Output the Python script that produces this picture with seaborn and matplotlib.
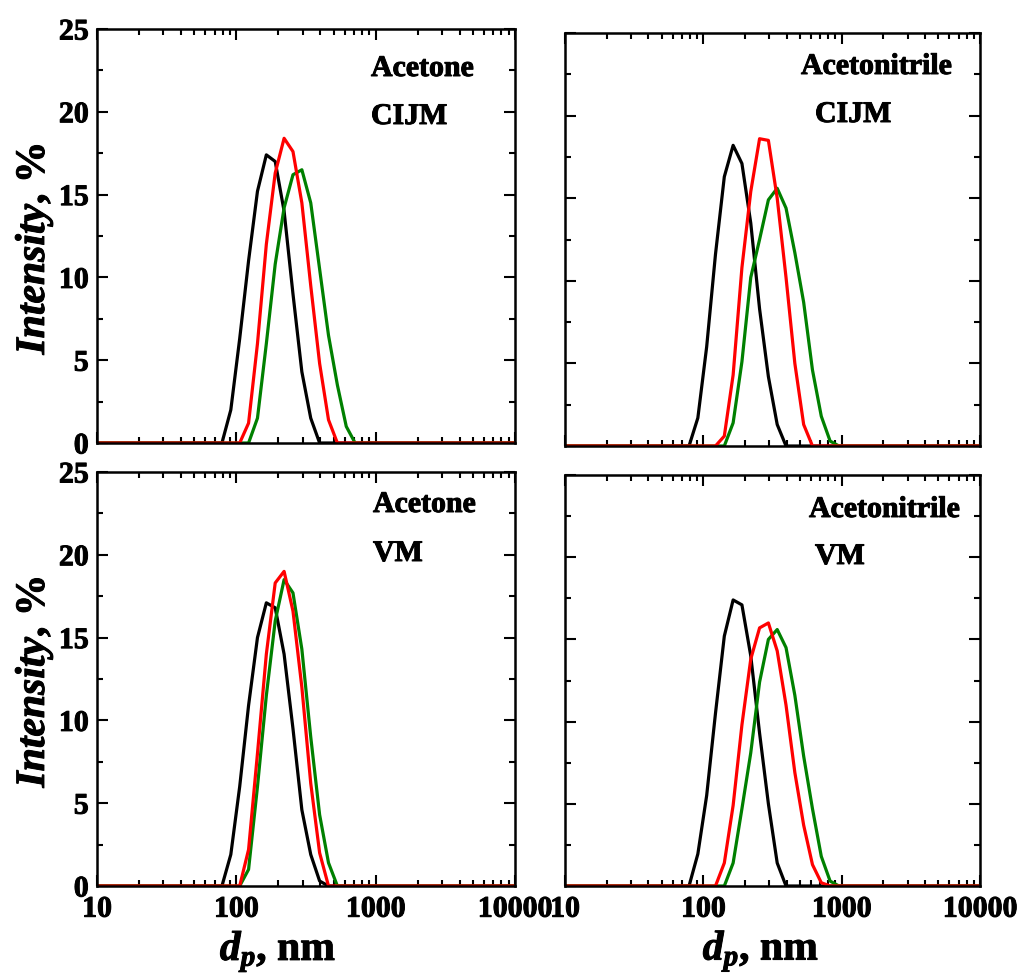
import numpy as np
import pandas as pd
import matplotlib
matplotlib.use("Agg")
import matplotlib.pyplot as plt
import matplotlib.patheffects as pe
import seaborn as sns
from matplotlib.ticker import FixedLocator, FixedFormatter, MultipleLocator, LogLocator, NullFormatter

# ---------------- data ----------------
# DLS size bins (nm)
d_nm = [68.06, 78.82, 91.28, 105.7, 122.4, 141.8, 164.2, 190.1, 220.2, 255.0,
        295.3, 342.0, 396.1, 458.7, 531.2, 615.1, 712.4, 825.0, 955.4]
x_ticks = [10, 100, 1000, 10000]
x_tick_labels = ["10", "100", "1000", "10000"]
y_ticks = [0, 5, 10, 15, 20, 25]

tl_black = [0, 0, 2.0, 6.3, 11.0, 15.2, 17.4, 17.0, 14.0, 9.0, 4.3, 1.5, 0, 0, 0, 0, 0, 0, 0]
tl_red   = [0, 0, 0, 0, 1.2, 6.0, 12.0, 16.3, 18.4, 17.6, 14.5, 9.5, 4.8, 1.4, 0, 0, 0, 0, 0]
tl_green = [0, 0, 0, 0, 0, 1.5, 6.0, 10.8, 14.2, 16.2, 16.5, 14.5, 10.5, 6.5, 3.5, 1.0, 0, 0, 0]

tr_black = [0, 0, 1.7, 6.0, 11.6, 16.3, 18.2, 17.1, 13.5, 8.3, 4.2, 1.3, 0, 0, 0, 0, 0, 0, 0]
tr_red   = [0, 0, 0, 0, 0, 0.6, 4.3, 10.8, 15.4, 18.6, 18.5, 15.0, 10.2, 5.0, 1.3, 0, 0, 0, 0]
tr_green = [0, 0, 0, 0, 0, 0, 1.4, 5.1, 10.2, 12.5, 14.9, 15.6, 14.4, 11.7, 8.7, 4.6, 1.8, 0.3, 0]

bl_black = [0, 0, 1.9, 6.0, 10.9, 15.0, 17.1, 16.8, 14.0, 9.5, 4.6, 1.9, 0.3, 0, 0, 0, 0, 0, 0]
bl_red   = [0, 0, 0, 0, 2.2, 8.0, 14.0, 18.3, 19.0, 16.6, 12.0, 6.2, 2.0, 0, 0, 0, 0, 0, 0]
bl_green = [0, 0, 0, 0, 1.0, 6.0, 11.5, 16.0, 18.5, 17.7, 14.3, 9.0, 4.3, 1.4, 0, 0, 0, 0, 0]

br_black = [0, 0, 1.95, 5.5, 10.5, 15.2, 17.4, 17.1, 14.0, 9.3, 5.0, 1.4, 0, 0, 0, 0, 0, 0, 0]
br_red   = [0, 0, 0, 0, 0, 1.4, 4.9, 9.8, 13.8, 15.7, 16.0, 14.3, 11.0, 6.9, 3.7, 1.3, 0.2, 0, 0]
br_green = [0, 0, 0, 0, 0, 0, 1.4, 4.7, 8.1, 12.4, 15.0, 15.6, 14.5, 11.6, 7.9, 4.7, 1.8, 0.3, 0]

solvents = ["Acetone", "Acetonitrile", "Acetone", "Acetonitrile"]
methods = ["CIJM", "CIJM", "VM", "VM"]

# ---------------- style ----------------
sns.set_style("ticks")
plt.rcParams["font.family"] = ["Liberation Serif", "DejaVu Serif"]
plt.rcParams["font.weight"] = "bold"
plt.rcParams["axes.labelweight"] = "bold"
plt.rcParams["text.color"] = "black"
plt.rcParams["axes.labelcolor"] = "black"
plt.rcParams["axes.edgecolor"] = "black"
plt.rcParams["xtick.color"] = "black"
plt.rcParams["ytick.color"] = "black"
plt.rcParams["mathtext.fontset"] = "custom"
plt.rcParams["mathtext.it"] = "Liberation Serif:italic:bold"
plt.rcParams["mathtext.rm"] = "Liberation Serif:bold"
plt.rcParams["mathtext.bf"] = "Liberation Serif:bold"

heavy = [pe.withStroke(linewidth=0.7, foreground="black")]

W, H = 1024, 978
fig = plt.figure(figsize=(W / 100, H / 100), dpi=100)

def box(x0, y0, x1, y1):
    return [x0 / W, 1 - y1 / H, (x1 - x0) / W, (y1 - y0) / H]

boxes = [box(97, 30, 515, 444), box(565, 34, 980, 447),
         box(97, 473, 515, 887), box(565, 476, 980, 887)]
panels = [(tl_black, tl_green, tl_red), (tr_black, tr_green, tr_red),
          (bl_black, bl_green, bl_red), (br_black, br_green, br_red)]
palette = {"a": "black", "b": "#008000", "c": "#ff0000"}

# text positions (pixels: left x, baseline y)
txt_pos = [((371, 77), (371, 125)), ((801, 75), (815, 123)),
           ((373, 513), (373, 562)), ((809, 518), (815, 565))]
xlabel_x = [None, None, 0.433, 0.472]
ylabel_y = [0.469, None, 0.493, None]

for i, (bx, series) in enumerate(zip(boxes, panels)):
    ax = fig.add_axes(bx)
    rows = []
    for key, vals in zip(["a", "b", "c"], series):
        xs = [10] + d_nm + [10000]
        ys = [0] + list(vals) + [0]
        for x, y in zip(xs, ys):
            rows.append({"d": x, "I": y, "s": key})
    df = pd.DataFrame(rows)
    ax.set_xscale("log")
    sns.lineplot(data=df, x="d", y="I", hue="s", hue_order=["a", "b", "c"],
                 palette=palette, ax=ax, legend=False, lw=2.3, sort=False,
                 estimator=None)
    ax.set_xlim(10, 10000)
    ax.set_ylim(0, 25)
    ax.xaxis.set_major_locator(FixedLocator(x_ticks))
    ax.xaxis.set_minor_locator(LogLocator(base=10, subs=np.arange(2, 10)))
    ax.xaxis.set_minor_formatter(NullFormatter())
    ax.yaxis.set_major_locator(FixedLocator(y_ticks))
    ax.yaxis.set_minor_locator(MultipleLocator(2.5))
    ax.tick_params(which="both", direction="in", top=True, right=True,
                   width=1.5, labelsize=21.5, pad=6)
    ax.tick_params(axis="x", pad=7)
    ax.tick_params(which="major", length=8)
    ax.tick_params(which="minor", length=4.5)
    for sp in ax.spines.values():
        sp.set_linewidth(1.8)
        sp.set_visible(True)
    if i >= 2:
        ax.xaxis.set_major_formatter(FixedFormatter(x_tick_labels))
        ax.set_xlabel(r"$d_p$, nm", fontsize=30)
        ax.xaxis.set_label_coords(xlabel_x[i], -0.105)
        ax.xaxis.label.set_path_effects(heavy)
    else:
        ax.set_xticklabels([])
        ax.set_xlabel("")
    if i % 2 == 0:
        ax.set_yticklabels([str(v) for v in y_ticks])
        ax.set_ylabel(r"$\mathit{Intensity}$, %", fontsize=30)
        ax.yaxis.set_label_coords(-0.10, ylabel_y[i])
        ax.yaxis.label.set_path_effects(heavy)
    else:
        ax.set_yticklabels([])
        ax.set_ylabel("")
    for t in ax.xaxis.get_major_ticks() + ax.yaxis.get_major_ticks():
        t.label1.set_path_effects(heavy)
    (p1, p2) = txt_pos[i]
    for (px, py), s in [(p1, solvents[i]), (p2, methods[i])]:
        fig.text(px / W, 1 - py / H, s, fontsize=21.5, fontweight="bold",
                 ha="left", va="baseline", path_effects=heavy)

fig.savefig("out.png", dpi=100)
